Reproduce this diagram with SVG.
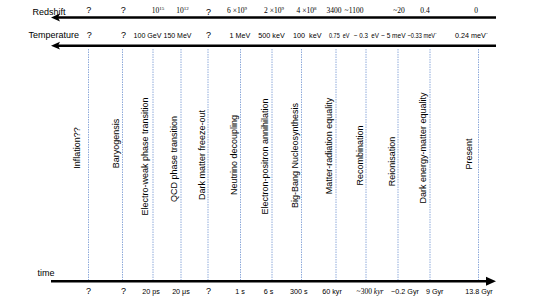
<svg xmlns="http://www.w3.org/2000/svg" width="534" height="300" viewBox="0 0 534 300">
<style>
text{font-family:"Liberation Sans",Arial,sans-serif;fill:#000}
.ax{stroke:#000;stroke-width:2.4;fill:none}
.ah{fill:#000;stroke:none}
.grid{stroke:#8eaadb;stroke-width:1;stroke-dasharray:1.5 1}
.hd{font-size:9px}
.lb{font-size:9px;text-anchor:middle}
.v{font-size:7.2px;text-anchor:middle}
.z{font-size:7.5px;text-anchor:middle;font-family:"Liberation Serif","Times New Roman",serif}
.q{font-size:9px;text-anchor:middle}
.sup{font-size:5px}
</style>
<rect width="534" height="300" fill="#fff"/>
<g id="connectors">
  <g id="guides">
    <line class="grid" x1="88.5" y1="49" x2="88.5" y2="280"/>
    <line class="grid" x1="122.5" y1="49" x2="122.5" y2="280"/>
    <line class="grid" x1="153" y1="49" x2="153" y2="280"/>
    <line class="grid" x1="181" y1="49" x2="181" y2="280"/>
    <line class="grid" x1="208" y1="49" x2="208" y2="280"/>
    <line class="grid" x1="240.5" y1="49" x2="240.5" y2="280"/>
    <line class="grid" x1="272" y1="49" x2="272" y2="280"/>
    <line class="grid" x1="301.5" y1="49" x2="301.5" y2="280"/>
    <line class="grid" x1="336" y1="49" x2="336" y2="280"/>
    <line class="grid" x1="366" y1="49" x2="366" y2="280"/>
    <line class="grid" x1="398" y1="49" x2="398" y2="280"/>
    <line class="grid" x1="430" y1="49" x2="430" y2="280"/>
    <line class="grid" x1="478.5" y1="49" x2="478.5" y2="280"/>
  </g>
  <g id="axis-redshift">
    <line class="ax" x1="57" y1="17.5" x2="496" y2="17.5"/>
    <path class="ah" d="M51,17.5 L60,13.6 L58,17.5 L60,21.4 Z"/>
  </g>
  <g id="axis-temperature">
    <line class="ax" x1="57" y1="45.7" x2="496" y2="45.7"/>
    <path class="ah" d="M51,45.7 L60,41.8 L58,45.7 L60,49.6 Z"/>
  </g>
  <g id="axis-time">
    <line class="ax" x1="51" y1="281.3" x2="488" y2="281.3"/>
    <path class="ah" d="M496,281.3 L486,276.8 L486,285.8 Z"/>
  </g>
</g>
<g id="axis-titles">
  <text class="hd" x="32.5" y="14.5">Redshift</text>
  <text class="hd" x="28.5" y="37.8">Temperature</text>
  <text class="hd" x="37.5" y="275.8">time</text>
</g>
<g id="inflation">
  <text class="lb" transform="translate(79.5,148) rotate(-90)">Inflation??</text>
  <text class="q" x="88.8" y="13">?</text>
  <text class="q" x="89.2" y="37.5">?</text>
  <text class="q" x="88.6" y="294">?</text>
</g>
<g id="baryogenesis">
  <text class="lb" transform="translate(119.3,143.5) rotate(-90)">Baryogensis</text>
  <text class="q" x="123.2" y="13">?</text>
  <text class="q" x="123.5" y="37.5">?</text>
  <text class="q" x="123.5" y="294">?</text>
</g>
<g id="electroweak">
  <text class="lb" transform="translate(148.3,156.5) rotate(-90)">Electro-weak phase transition</text>
  <text class="z" x="158" y="13">10<tspan class="sup" dy="-3">15</tspan></text>
  <text class="v" x="147.5" y="37.5" textLength="28" lengthAdjust="spacingAndGlyphs">100 GeV</text>
  <text class="v" x="151" y="294">20 ps</text>
</g>
<g id="qcd">
  <text class="lb" transform="translate(176.6,159) rotate(-90)">QCD phase transition</text>
  <text class="z" x="182.5" y="13">10<tspan class="sup" dy="-3">12</tspan></text>
  <text class="v" x="177.5" y="37.5" textLength="28" lengthAdjust="spacingAndGlyphs">150 MeV</text>
  <text class="v" x="181" y="294">20 μs</text>
</g>
<g id="dark-matter-freeze-out">
  <text class="lb" transform="translate(204.5,155) rotate(-90)">Dark matter freeze-out</text>
  <text class="q" x="208.5" y="15">?</text>
  <text class="q" x="208.5" y="37.5">?</text>
  <text class="q" x="208.5" y="294">?</text>
</g>
<g id="neutrino-decoupling">
  <text class="lb" transform="translate(237.3,155) rotate(-90)">Neutrino decoupling</text>
  <text class="z" x="237" y="13">6 ×10<tspan class="sup" dy="-3">9</tspan></text>
  <text class="v" x="240" y="37.5">1 MeV</text>
  <text class="v" x="240" y="294">1 s</text>
</g>
<g id="electron-positron-annihilation">
  <text class="lb" transform="translate(268.4,156.5) rotate(-90)">Electron-positron annihilation</text>
  <text class="z" x="274" y="13">2 ×10<tspan class="sup" dy="-3">9</tspan></text>
  <text class="v" x="271.5" y="37.5">500 keV</text>
  <text class="v" x="268.5" y="294">6 s</text>
</g>
<g id="bbn">
  <text class="lb" transform="translate(297.6,155.5) rotate(-90)">Big-Bang Nucleosynthesis</text>
  <text class="z" x="306.5" y="13">4 ×10<tspan class="sup" dy="-3">8</tspan></text>
  <text class="v" x="307.3" y="37.5" xml:space="preserve">100  keV</text>
  <text class="v" x="298.7" y="294">300 s</text>
</g>
<g id="matter-radiation-equality">
  <text class="lb" transform="translate(331.6,146) rotate(-90)">Matter-radiation equality</text>
  <text class="z" x="334" y="13">3400</text>
  <text class="v" x="329" y="37.5" style="text-anchor:start" textLength="20.5" lengthAdjust="spacingAndGlyphs" xml:space="preserve">0.75  eV</text>
  <text class="v" x="332" y="294">60 kyr</text>
</g>
<g id="recombination">
  <text class="lb" transform="translate(362.6,155.5) rotate(-90)">Recombination</text>
  <text class="z" x="354" y="13">~1100</text>
  <text class="v" x="353.8" y="37.5" style="text-anchor:start" textLength="25.2" lengthAdjust="spacingAndGlyphs" xml:space="preserve">~ 0.3  eV</text>
  <text class="z" x="370" y="294">~300 <tspan font-style="italic">kyr</tspan></text>
</g>
<g id="reionisation">
  <text class="lb" transform="translate(394.6,161.5) rotate(-90)">Reionisation</text>
  <text class="z" x="399" y="13">~20</text>
  <text class="v" x="381" y="37.5" style="text-anchor:start" textLength="24.5" lengthAdjust="spacingAndGlyphs">~ 5 meV</text>
  <text class="v" x="405" y="294">~0.2 Gyr</text>
</g>
<g id="dark-energy-matter-equality">
  <text class="lb" transform="translate(426.2,148) rotate(-90)">Dark energy-matter equality</text>
  <text class="z" x="425" y="13">0.4</text>
  <text class="v" x="407.5" y="37.5" style="text-anchor:start" textLength="29.5" lengthAdjust="spacingAndGlyphs">~0.33 meV`</text>
  <text class="v" x="434.7" y="294">9 Gyr</text>
</g>
<g id="present">
  <text class="lb" transform="translate(471.6,154) rotate(-90)">Present</text>
  <text class="z" x="476" y="13">0</text>
  <text class="v" x="471.5" y="37.5">0.24 meV`</text>
  <text class="v" x="479" y="294">13.8 Gyr</text>
</g>
</svg>
